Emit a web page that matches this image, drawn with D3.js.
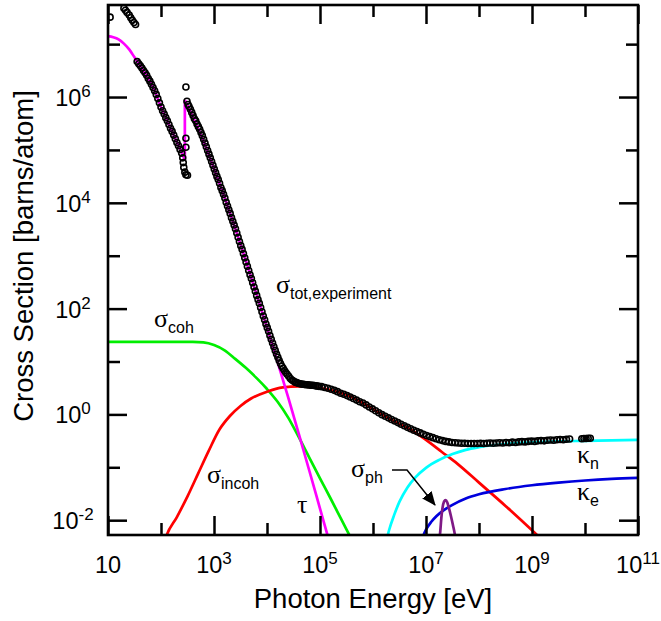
<!DOCTYPE html>
<html>
<head>
<meta charset="utf-8">
<script src="https://cdn.jsdelivr.net/npm/d3@7"></script>
<style>
  body { margin: 0; background: #fff; }
  svg { display: block; }
</style>
</head>
<body>
<svg id="chart" width="661" height="621"></svg>
<script>
// Photon cross sections of carbon, 10 eV – 100 GeV.
// All series are stored as [log10(E / eV), log10(sigma / barn)] pairs.

const xMajorExp = [1, 3, 5, 7, 9, 11];
const xMinorExp = [2, 4, 6, 8, 10];
const yMajorExp = [-2, 0, 2, 4, 6];
const yMinorExp = [-1, 1, 3, 5, 7];

// tau: atomic photoelectric effect, below and above the K edge
const tauBelowEdge = [[1.0,7.15],[1.1,7.13],[1.2,7.09],[1.3,7.01],[1.4,6.90],[1.5,6.75],[1.6,6.60],
  [1.7,6.45],[1.8,6.28],[1.9,6.07],[2.0,5.81],[2.1,5.59],[2.2,5.37],[2.3,5.15],[2.4,4.93],[2.45,4.81]];
const tauAboveEdge = [[2.45,5.94],[2.6,5.63],[2.8,5.17],[3.0,4.65],[3.2,4.10],[3.4,3.52],[3.6,2.91],
  [3.8,2.28],[4.0,1.64],[4.2,0.99],[4.4,0.32],[4.6,-0.37],[4.8,-1.07],[5.0,-1.78],[5.2,-2.49]];

// coherent (Rayleigh) scattering
const sigmaCoh = [[1.0,1.37],[2.6,1.37],[2.8,1.36],[3.0,1.31],[3.2,1.21],[3.4,1.05],[3.6,0.88],
  [3.8,0.69],[4.0,0.48],[4.2,0.24],[4.4,-0.06],[4.6,-0.43],[4.8,-0.82],[5.0,-1.21],[5.2,-1.59],
  [5.4,-1.98],[5.6,-2.37]];

// incoherent (Compton) scattering
const sigmaIncoh = [[2.08,-2.36],[2.1,-2.30],[2.3,-1.94],[2.5,-1.55],[2.7,-1.12],[2.9,-0.69],[3.1,-0.29],
  [3.3,-0.03],[3.5,0.16],[3.7,0.30],[4.0,0.43],[4.3,0.51],[4.6,0.53],[4.9,0.51],[5.2,0.46],[5.5,0.37],
  [5.8,0.22],[6.1,0.04],[6.4,-0.13],[6.7,-0.28],[7.0,-0.48],[7.3,-0.71],[7.6,-0.94],[8.0,-1.29],
  [8.5,-1.73],[9.0,-2.19],[9.2,-2.38]];

// pair production in the nuclear field
const kappaN = [[6.24,-2.45],[6.3,-2.20],[6.4,-1.90],[6.5,-1.65],[6.65,-1.38],[6.8,-1.19],[7.0,-1.01],
  [7.25,-0.86],[7.5,-0.75],[7.75,-0.67],[8.0,-0.62],[8.5,-0.56],[9.0,-0.53],[9.5,-0.51],[10.0,-0.50],
  [10.5,-0.49],[11.0,-0.48]];

// pair production in the electron field
const kappaE = [[6.9,-2.45],[6.95,-2.29],[7.0,-2.18],[7.1,-2.03],[7.2,-1.92],[7.35,-1.80],[7.5,-1.71],
  [7.75,-1.59],[8.0,-1.51],[8.5,-1.41],[9.0,-1.34],[9.5,-1.29],[10.0,-1.25],[10.5,-1.22],[11.0,-1.20]];

// photonuclear absorption (giant dipole resonance)
const sigmaPh = [[7.24,-2.5],[7.27,-2.2],[7.29,-1.95],[7.31,-1.78],[7.34,-1.65],[7.37,-1.62],[7.40,-1.66],
  [7.43,-1.76],[7.47,-1.92],[7.51,-2.10],[7.55,-2.30],[7.58,-2.5]];

// measured total cross section
const sigmaTotExp = [
  [1.04,7.51],
  [1.30,7.68],[1.33,7.64],[1.36,7.60],[1.40,7.55],[1.43,7.50],[1.46,7.45],[1.49,7.41],[1.52,7.37],
  [1.55,6.67],[1.58,6.63],[1.61,6.59],[1.64,6.55],[1.67,6.50],[1.70,6.46],[1.73,6.41],[1.76,6.35],
  [1.79,6.30],[1.82,6.24],[1.85,6.18],[1.88,6.12],[1.91,6.05],[1.94,5.97],[1.97,5.89],[2.00,5.81],
  [2.03,5.74],[2.06,5.68],[2.09,5.61],[2.12,5.55],[2.15,5.48],[2.18,5.41],[2.21,5.35],[2.24,5.28],
  [2.27,5.21],[2.30,5.14],[2.33,5.08],[2.36,5.01],[2.39,4.94],[2.41,4.85],[2.42,4.76],[2.43,4.67],
  [2.45,4.58],[2.47,4.53],[2.50,4.52],
  [2.47,6.19],[2.47,5.22],[2.47,5.05],
  [2.49,5.92],[2.51,5.86],[2.53,5.82],[2.555,5.77],[2.58,5.71],[2.605,5.65],[2.63,5.59],[2.655,5.55],
  [2.68,5.49],[2.705,5.44],[2.73,5.39],[2.755,5.33],[2.78,5.27],[2.805,5.20],[2.83,5.13],[2.855,5.06],
  [2.88,4.99],[2.905,4.92],[2.93,4.85],[2.955,4.78],[2.98,4.71],[3.005,4.64],[3.03,4.57],[3.055,4.50],
  [3.08,4.44],[3.105,4.37],[3.13,4.29],[3.155,4.23],[3.18,4.16],[3.205,4.09],[3.23,4.01],[3.255,3.94],
  [3.28,3.87],[3.305,3.80],[3.33,3.72],[3.355,3.65],[3.38,3.58],[3.405,3.51],[3.43,3.43],[3.455,3.35],
  [3.48,3.27],[3.505,3.19],[3.53,3.12],[3.555,3.04],[3.58,2.96],[3.605,2.88],[3.63,2.80],[3.655,2.72],
  [3.68,2.64],[3.705,2.57],[3.73,2.49],[3.755,2.41],[3.78,2.33],[3.805,2.25],[3.83,2.17],[3.855,2.10],
  [3.88,2.02],[3.905,1.94],[3.93,1.86],[3.955,1.79],[3.98,1.71],[4.005,1.64],[4.03,1.57],[4.055,1.49],
  [4.08,1.42],[4.105,1.35],[4.13,1.28],[4.155,1.21],[4.18,1.14],[4.205,1.08],[4.23,1.02],[4.255,0.96],
  [4.28,0.91],[4.305,0.87],[4.33,0.83],[4.355,0.79],[4.38,0.76],[4.41,0.72],[4.44,0.68],[4.47,0.65],
  [4.50,0.63],[4.53,0.61],[4.56,0.60],[4.59,0.59],[4.62,0.58],[4.65,0.575],[4.68,0.57],[4.71,0.565],
  [4.74,0.56],[4.77,0.56],[4.80,0.555],[4.83,0.55],[4.86,0.55],[4.89,0.545],[4.92,0.54],[4.95,0.535],
  [4.98,0.53],
  [5.03,0.525],[5.09,0.51],[5.15,0.495],[5.21,0.475],[5.27,0.455],[5.33,0.43],[5.39,0.40],[5.45,0.38],
  [5.51,0.355],[5.57,0.33],[5.63,0.30],[5.69,0.27],[5.75,0.24],[5.81,0.215],[5.87,0.18],[5.93,0.14],
  [5.99,0.105],[6.05,0.07],[6.11,0.03],[6.17,-0.005],[6.23,-0.035],[6.29,-0.065],[6.35,-0.095],
  [6.41,-0.125],[6.47,-0.155],[6.53,-0.185],[6.59,-0.215],[6.65,-0.245],[6.71,-0.27],[6.77,-0.30],
  [6.83,-0.325],[6.89,-0.35],[6.95,-0.375],[7.01,-0.40],[7.07,-0.42],[7.13,-0.44],[7.19,-0.46],
  [7.25,-0.48],[7.31,-0.495],[7.37,-0.51],[7.43,-0.52],[7.49,-0.53],[7.55,-0.535],[7.61,-0.54],
  [7.67,-0.545],[7.73,-0.545],[7.79,-0.55],[7.85,-0.55],[7.91,-0.55],[7.97,-0.55],[8.03,-0.545],
  [8.09,-0.55],[8.15,-0.545],[8.21,-0.54],[8.27,-0.545],[8.33,-0.54],[8.39,-0.535],[8.45,-0.54],
  [8.51,-0.53],[8.57,-0.535],[8.63,-0.525],[8.69,-0.53],[8.75,-0.52],[8.81,-0.515],[8.87,-0.52],
  [8.93,-0.51],[8.99,-0.505],[9.05,-0.51],[9.11,-0.50],[9.17,-0.495],[9.23,-0.50],[9.29,-0.49],
  [9.35,-0.485],[9.41,-0.49],[9.47,-0.48],[9.53,-0.475],[9.59,-0.48],[9.65,-0.47],[9.71,-0.465],
  [9.94,-0.46],[9.98,-0.455],[10.02,-0.455],[10.06,-0.45],[10.10,-0.45]
];

// ---- layout ----
const plot = { left: 108, right: 638, top: 5, bottom: 535 };
const sans = "'Liberation Sans', Arial, Helvetica, sans-serif";
const serif = "'Liberation Serif', 'Times New Roman', serif";
const p10 = v => Math.pow(10, v);

const x = d3.scaleLog().domain([1e1, 1e11]).range([plot.left, plot.right]);
const y = d3.scaleLog().domain([p10(-2.28), p10(7.74)]).range([plot.bottom, plot.top]);

const svg = d3.select("#chart");
const defs = svg.append("defs");

defs.append("clipPath").attr("id", "plotClip")
  .append("rect")
  .attr("x", plot.left).attr("y", plot.top)
  .attr("width", plot.right - plot.left).attr("height", plot.bottom - plot.top);

const arrowMarker = defs.append("marker")
  .attr("id", "arrowHead")
  .attr("markerUnits", "userSpaceOnUse")
  .attr("viewBox", "0 0 14 12")
  .attr("markerWidth", 14).attr("markerHeight", 12)
  .attr("refX", 13).attr("refY", 6)
  .attr("orient", "auto");
arrowMarker.append("path").attr("d", "M0,0 L14,6 L0,12 Z").attr("fill", "#000");

const smooth = d3.line()
  .x(d => x(p10(d[0])))
  .y(d => y(p10(d[1])))
  .curve(d3.curveMonotoneX);
const straight = d3.line()
  .x(d => x(p10(d[0])))
  .y(d => y(p10(d[1])));

const curves = svg.append("g").attr("clip-path", "url(#plotClip)");

function drawCurve(d, color) {
  curves.append("path")
    .attr("d", d)
    .attr("fill", "none")
    .attr("stroke", color)
    .attr("stroke-width", 2.7)
    .attr("stroke-linejoin", "round");
}

drawCurve(smooth(sigmaCoh), "#00ee00");
drawCurve(smooth(sigmaIncoh), "#ff0000");
drawCurve(smooth(kappaN), "#00ffff");
drawCurve(smooth(kappaE), "#0000dd");
drawCurve(smooth(sigmaPh), "#7f1a86");
drawCurve(smooth(tauBelowEdge), "#ff00ff");
drawCurve(smooth(tauAboveEdge), "#ff00ff");
// K edge jump
drawCurve(straight([tauBelowEdge[tauBelowEdge.length - 1], tauAboveEdge[0]]), "#ff00ff");

// measured points
curves.append("g").selectAll("circle")
  .data(sigmaTotExp)
  .join("circle")
  .attr("cx", d => x(p10(d[0])))
  .attr("cy", d => y(p10(d[1])))
  .attr("r", 3)
  .attr("fill", "none")
  .attr("stroke", "#000")
  .attr("stroke-width", 1.6);

// ---- axes: inward ticks on all four sides ----
function styleAxis(g) {
  g.select(".domain").remove();
  g.selectAll(".tick line").attr("stroke", "#000").attr("stroke-width", 2.5);
  g.selectAll(".tick text").remove();
}
const majorLen = 19, minorLen = 12;
const xMajor = xMajorExp.map(p10), xMinor = xMinorExp.map(p10);
const yMajor = yMajorExp.map(p10), yMinor = yMinorExp.map(p10);

[[xMajor, majorLen], [xMinor, minorLen]].forEach(([vals, len]) => {
  svg.append("g").attr("transform", `translate(0,${plot.bottom})`)
    .call(d3.axisBottom(x).tickValues(vals).tickSize(-len).tickFormat("")).call(styleAxis);
  svg.append("g").attr("transform", `translate(0,${plot.top})`)
    .call(d3.axisTop(x).tickValues(vals).tickSize(-len).tickFormat("")).call(styleAxis);
});
[[yMajor, majorLen], [yMinor, minorLen]].forEach(([vals, len]) => {
  svg.append("g").attr("transform", `translate(${plot.left},0)`)
    .call(d3.axisLeft(y).tickValues(vals).tickSize(-len).tickFormat("")).call(styleAxis);
  svg.append("g").attr("transform", `translate(${plot.right},0)`)
    .call(d3.axisRight(y).tickValues(vals).tickSize(-len).tickFormat("")).call(styleAxis);
});

// frame
svg.append("rect")
  .attr("x", plot.left).attr("y", plot.top)
  .attr("width", plot.right - plot.left).attr("height", plot.bottom - plot.top)
  .attr("fill", "none").attr("stroke", "#000").attr("stroke-width", 2.6);

// tick labels as powers of ten
function powerLabel(textSel, e) {
  textSel.append("tspan").text("10");
  if (e !== 1) textSel.append("tspan").attr("dy", -9).attr("font-size", 17).text(String(e));
}
xMajorExp.forEach(e => {
  const t = svg.append("text")
    .attr("x", x(p10(e))).attr("y", 573)
    .attr("text-anchor", "middle")
    .attr("font-family", sans).attr("font-size", 23.5).attr("fill", "#000");
  powerLabel(t, e);
});
yMajorExp.forEach(e => {
  const t = svg.append("text")
    .attr("x", 73).attr("y", y(p10(e)) + 9)
    .attr("text-anchor", "middle")
    .attr("font-family", sans).attr("font-size", 23.5).attr("fill", "#000");
  powerLabel(t, e);
});

// axis titles
svg.append("text")
  .attr("x", 373).attr("y", 608)
  .attr("text-anchor", "middle")
  .attr("font-family", sans).attr("font-size", 27.5).attr("fill", "#000")
  .text("Photon Energy [eV]");
svg.append("text")
  .attr("transform", "translate(33,256) rotate(-90)")
  .attr("text-anchor", "middle")
  .attr("font-family", sans).attr("font-size", 27.5).attr("fill", "#000")
  .text("Cross Section [barns/atom]");

// curve annotations, anchored in data coordinates
const annotations = [
  { sym: "σ", sub: "tot,experiment", at: [4.17, 2.295] },
  { sym: "σ", sub: "coh", at: [1.868, 1.655] },
  { sym: "σ", sub: "incoh", at: [2.868, -1.297] },
  { sym: "τ", sub: "", at: [4.566, -1.864] },
  { sym: "κ", sub: "n", at: [9.849, -0.919] },
  { sym: "κ", sub: "e", at: [9.849, -1.618] },
  { sym: "σ", sub: "ph", at: [5.585, -1.183] }
];
annotations.forEach(a => {
  const t = svg.append("text")
    .attr("x", x(p10(a.at[0]))).attr("y", y(p10(a.at[1])))
    .attr("fill", "#000");
  t.append("tspan").attr("font-family", serif).attr("font-size", 26).text(a.sym);
  if (a.sub) t.append("tspan").attr("font-family", sans).attr("font-size", 16).attr("dy", 6).text(a.sub);
});

// pointer from the photonuclear label to its peak
const pointer = [[6.358, -1.051], [6.642, -1.051], [7.17, -1.713]];
svg.append("path")
  .attr("d", straight(pointer))
  .attr("fill", "none").attr("stroke", "#000").attr("stroke-width", 1.5)
  .attr("marker-end", "url(#arrowHead)");
</script>
</body>
</html>
